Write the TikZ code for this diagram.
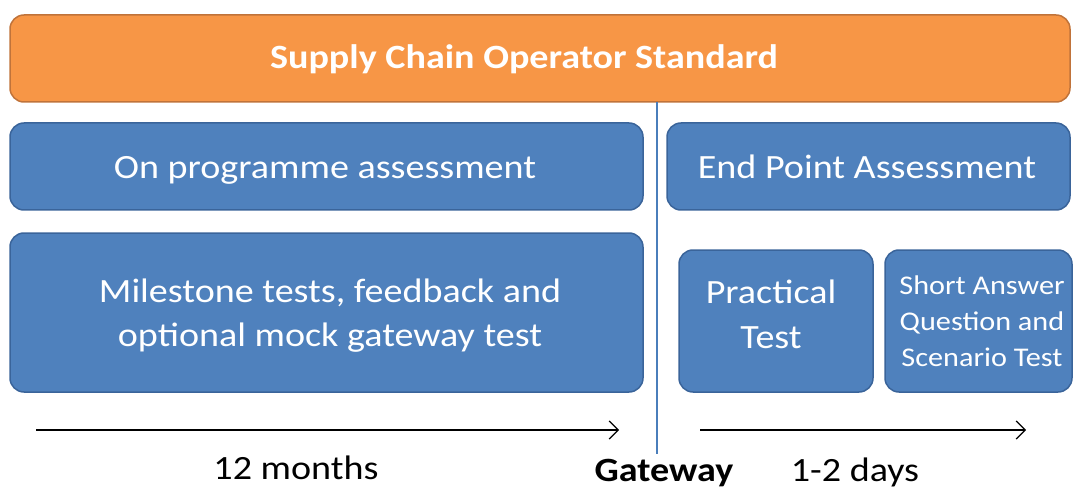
\documentclass[tikz,border=0pt]{standalone}
\usepackage{fontspec}
\setmainfont{Carlito}[FakeStretch=1.12]
\usetikzlibrary{arrows.meta}
\definecolor{boxblue}{HTML}{4F81BD}
\definecolor{boxblueedge}{HTML}{3A649A}
\definecolor{boxorange}{HTML}{F79646}
\definecolor{boxorangeedge}{HTML}{C0733A}
\definecolor{gateblue}{HTML}{4A7EBB}
\tikzset{
  bluebox/.style={draw=boxblueedge, fill=boxblue, line width=1.5pt, rounded corners=14pt},
  orangebox/.style={draw=boxorangeedge, fill=boxorange, line width=1.5pt, rounded corners=14pt},
  boxtext/.style={text=white, align=center, anchor=base, inner sep=0pt, font=\fontsize{34}{44}\selectfont},
  timeline/.style={draw=black, line width=1.2pt, -{Straight Barb[length=9pt,width=18pt,line width=1.2pt]}},
  lbl/.style={text=black, anchor=base, inner sep=0pt, font=\fontsize{34}{40}\selectfont}
}
\begin{document}
\begin{tikzpicture}[x=1pt,y=-1pt]
\useasboundingbox (0,0) rectangle (1073,489);
% boxes
\draw[orangebox] (10,15) rectangle (1070,102);
\node[boxtext, font=\bfseries\fontsize{34}{40}\selectfont] (title) at (524,69) {Supply Chain Operator Standard};
\draw[bluebox] (10,123) rectangle (643,210);
\node[boxtext] (onprog) at (325,179) {On programme assessment};
\draw[bluebox] (667,123) rectangle (1070,210);
\node[boxtext] (epa) at (867,179) {End Point Assessment};
\draw[bluebox] (10,233) rectangle (643,392);
\node[boxtext] (milestone) at (330,346) {Milestone tests, feedback and\\optional mock gateway test};
\draw[bluebox] (679,250) rectangle (873,392);
\node[boxtext, font=\fontsize{34}{45}\selectfont] (practical) at (771,348) {Practical\\Test};
\draw[bluebox] (885,250) rectangle (1072,392);
\node[boxtext, font=\fontsize{27}{36}\selectfont] (sa) at (982,366) {Short Answer\\Question and\\Scenario Test};
% gateway line
\coordinate (gtop) at (657,102);
\coordinate (gbot) at (657,454);
\draw[gateblue, line width=1.2pt] (gtop) -- (gbot);
% timelines
\coordinate (a1s) at (36,430);
\coordinate (a1e) at (619,430);
\coordinate (a2s) at (700,430);
\coordinate (a2e) at (1026,430);
\draw[timeline] (a1s) -- (a1e);
\draw[timeline] (a2s) -- (a2e);
\node[lbl] (months) at (296,479) {12 months};
\node[lbl, font=\bfseries\fontsize{34}{40}\selectfont] (gateway) at (664,481) {Gateway};
\node[lbl] (days) at (855,481) {1-2 days};
\end{tikzpicture}
\end{document}
